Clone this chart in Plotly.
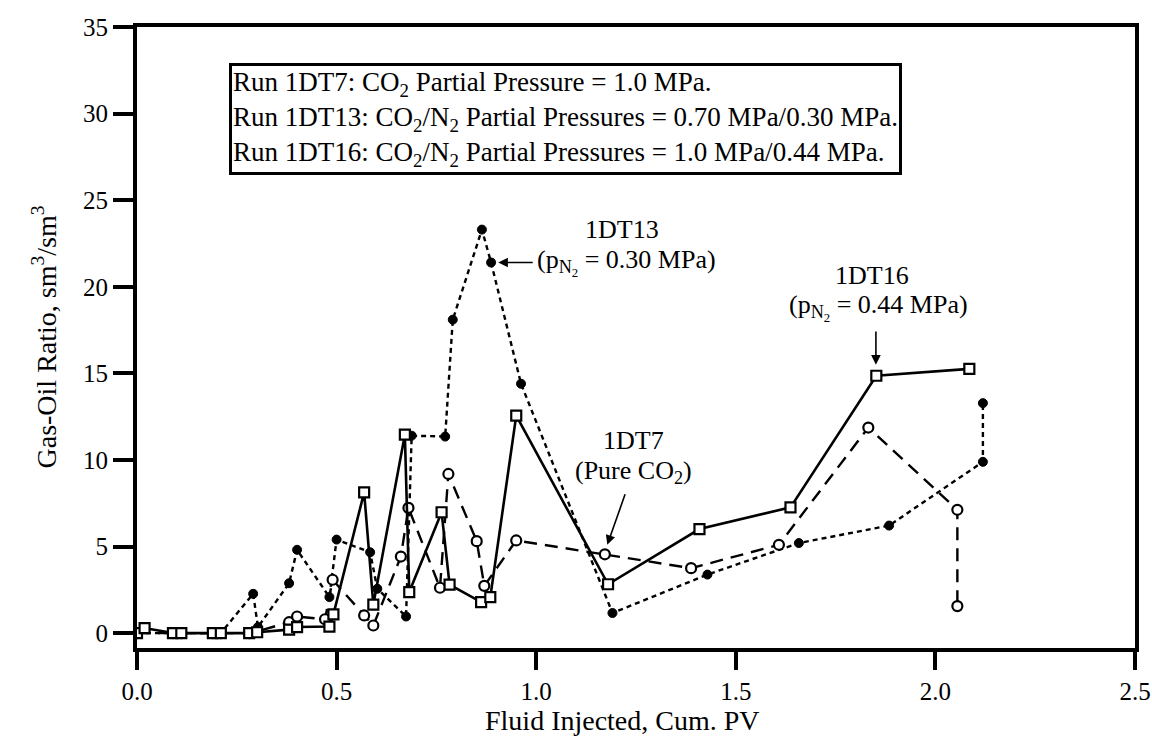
import plotly.graph_objects as go

# Cumulative fluid injected (PV) and gas-oil ratio (sm3/sm3) for each run
x_1dt7 = [0.0, 0.09, 0.111, 0.19, 0.21, 0.281, 0.301, 0.381, 0.401, 0.471, 0.49,
          0.569, 0.592, 0.661, 0.68, 0.759, 0.78, 0.851, 0.87, 0.95,
          1.172, 1.388, 1.608, 1.832, 2.055, 2.055]
y_1dt7 = [0.0, 0.0, 0.0, 0.0, 0.0, 0.0, 0.1, 0.63, 0.96, 0.8, 3.08,
          1.02, 0.44, 4.42, 7.23, 2.62, 9.19, 5.31, 2.73, 5.35,
          4.55, 3.75, 5.1, 11.87, 7.12, 1.56]

x_1dt13 = [0.0, 0.09, 0.111, 0.19, 0.21, 0.291, 0.303, 0.381, 0.401, 0.482, 0.5,
           0.584, 0.602, 0.674, 0.688, 0.772, 0.791, 0.864, 0.887, 0.962,
           1.191, 1.429, 1.658, 1.884, 2.119, 2.119]
y_1dt13 = [0.0, 0.0, 0.0, 0.0, 0.0, 2.27, 0.35, 2.88, 4.81, 2.08, 5.4,
           4.67, 2.56, 0.96, 11.4, 11.35, 18.1, 23.3, 21.4, 14.4,
           1.16, 3.38, 5.2, 6.21, 9.89, 13.28]

x_1dt16 = [0.0, 0.019, 0.09, 0.111, 0.19, 0.21, 0.281, 0.301, 0.381, 0.401, 0.482, 0.492,
           0.569, 0.592, 0.671, 0.682, 0.763, 0.783, 0.862, 0.885, 0.95,
           1.18, 1.409, 1.637, 1.852, 2.085]
y_1dt16 = [0.0, 0.29, 0.0, 0.0, 0.0, 0.0, 0.0, 0.05, 0.2, 0.35, 0.38, 1.08,
           8.13, 1.65, 11.46, 2.37, 6.98, 2.8, 1.79, 2.08, 12.56,
           2.82, 6.01, 7.26, 14.86, 15.26]

x_ticks = [0.0, 0.5, 1.0, 1.5, 2.0, 2.5]
x_tick_text = ["0.0", "0.5", "1.0", "1.5", "2.0", "2.5"]
y_ticks = [0, 5, 10, 15, 20, 25, 30, 35]

FONT = "Liberation Serif"
INK = "black"

fig = go.Figure()

fig.add_trace(go.Scatter(
    x=x_1dt13, y=y_1dt13, mode="lines+markers", name="1DT13",
    line=dict(color=INK, width=2.4, dash="5px,4px"),
    marker=dict(symbol="circle", size=9, color=INK, line=dict(color=INK, width=1)),
))
fig.add_trace(go.Scatter(
    x=x_1dt7, y=y_1dt7, mode="lines+markers", name="1DT7",
    line=dict(color=INK, width=2.4, dash="13px,8px"),
    marker=dict(symbol="circle", size=10, color="white", line=dict(color=INK, width=2.2)),
))
fig.add_trace(go.Scatter(
    x=x_1dt16, y=y_1dt16, mode="lines+markers", name="1DT16",
    line=dict(color=INK, width=2.6),
    marker=dict(symbol="square", size=10, color="white", line=dict(color=INK, width=2.2)),
))

legend_text = (
    "Run 1DT7: CO<sub>2</sub> Partial Pressure = 1.0 MPa.<br>"
    "Run 1DT13: CO<sub>2</sub>/N<sub>2</sub> Partial Pressures = 0.70 MPa/0.30 MPa.<br>"
    "Run 1DT16: CO<sub>2</sub>/N<sub>2</sub> Partial Pressures = 1.0 MPa/0.44 MPa."
)

box_font = dict(family=FONT, size=27, color=INK)
txt = dict(family=FONT, size=26, color=INK)
title_font = dict(family=FONT, size=28, color=INK)
annotations = [
    dict(x=0.23, y=32.9, xref="x", yref="y", text=legend_text, showarrow=False,
         xanchor="left", yanchor="top", align="left", font=box_font,
         bordercolor=INK, borderwidth=3, borderpad=1, bgcolor="white"),
    # 1DT13 label and pointer
    dict(x=1.215, y=23.3, text="1DT13", showarrow=False, font=txt,
         xanchor="center", yanchor="middle"),
    dict(x=0.998, y=21.4, text="(p<sub>N<sub>2</sub></sub> = 0.30 MPa)", showarrow=False,
         font=txt, xanchor="left", yanchor="middle"),
    dict(x=0.905, y=21.4, ax=0.995, ay=21.4, xref="x", yref="y", axref="x", ayref="y",
         text="", showarrow=True, arrowhead=2, arrowsize=1.2, arrowwidth=1.6, arrowcolor=INK),
    # 1DT16 label and pointer
    dict(x=1.84, y=20.65, text="1DT16", showarrow=False, font=txt,
         xanchor="center", yanchor="middle"),
    dict(x=1.857, y=18.8, text="(p<sub>N<sub>2</sub></sub> = 0.44 MPa)", showarrow=False,
         font=txt, xanchor="center", yanchor="middle"),
    dict(x=1.851, y=15.5, ax=1.851, ay=17.5, xref="x", yref="y", axref="x", ayref="y",
         text="", showarrow=True, arrowhead=2, arrowsize=1.2, arrowwidth=1.6, arrowcolor=INK),
    # 1DT7 label and pointer
    dict(x=1.243, y=11.15, text="1DT7", showarrow=False, font=txt,
         xanchor="center", yanchor="middle"),
    dict(x=1.243, y=9.3, text="(Pure CO<sub>2</sub>)", showarrow=False, font=txt,
         xanchor="center", yanchor="middle"),
    dict(x=1.178, y=5.1, ax=1.224, ay=8.1, xref="x", yref="y", axref="x", ayref="y",
         text="", showarrow=True, arrowhead=2, arrowsize=1.2, arrowwidth=1.6, arrowcolor=INK),
    # axis titles
    dict(x=1.216, y=-72, xref="x", yref="paper", yshift=0, text="Fluid Injected, Cum. PV",
         showarrow=False, font=title_font, xanchor="center", yanchor="middle"),
    dict(x=0, y=0.5, xref="paper", yref="paper", xshift=-92,
         text="Gas-Oil Ratio, sm<sup>3</sup>/sm<sup>3</sup>", textangle=-90,
         showarrow=False, font=title_font, xanchor="center", yanchor="middle"),
]
# x title sits 72 px below the bottom frame line
annotations[-2]["y"] = 0
annotations[-2]["yshift"] = -72

fig.update_layout(
    width=1152, height=744,
    margin=dict(l=137, r=17, t=27, b=96),
    paper_bgcolor="white", plot_bgcolor="white",
    showlegend=False,
    font=dict(family=FONT, size=25, color=INK),
    annotations=annotations,
)

fig.update_xaxes(
    range=[0, 2.5], tickvals=x_ticks, ticktext=x_tick_text,
    showgrid=False, zeroline=False, automargin=False,
    showline=True, linewidth=4, linecolor=INK, mirror=True,
    ticks="outside", ticklen=18, tickwidth=4, tickcolor=INK,
    tickfont=dict(family=FONT, size=25, color=INK),
)
fig.update_yaxes(
    range=[-0.86, 35.0], tickvals=y_ticks,
    showgrid=False, zeroline=False, automargin=False,
    showline=True, linewidth=4, linecolor=INK, mirror=True,
    ticks="outside", ticklen=20, tickwidth=4, tickcolor=INK,
    tickfont=dict(family=FONT, size=25, color=INK),
)

fig.write_html("out.html")
